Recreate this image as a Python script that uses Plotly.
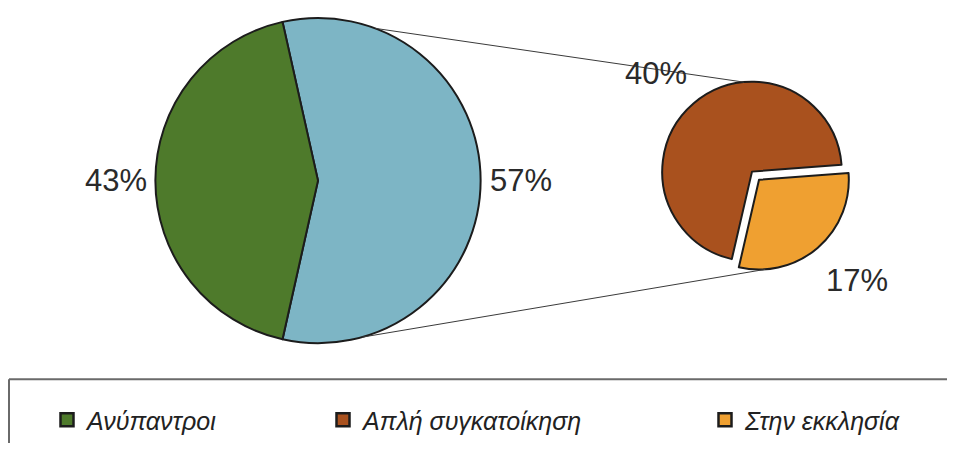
import math
import plotly.graph_objects as go

# ── data ────────────────────────────────────
main_labels = ["Συμβιώνουν", "Ανύπαντροι"]
main_values = [57, 43]
sub_labels = ["Απλή συγκατοίκηση", "Στην εκκλησία"]
sub_values = [40, 17]
legend_labels = ["Ανύπαντροι", "Απλή συγκατοίκηση", "Στην εκκλησία"]

# ── style / geometry ────────────────────────
# the page body has an 8px margin on every side, so the figure is made that
# much smaller (no scrollbars) and reference pixel positions are shifted by it
OFF = 8
W, H = 955 - 2 * OFF, 451 - 2 * OFF
GREEN, BLUE, BROWN, ORANGE = "#4e7a2b", "#7db5c5", "#a9511e", "#efa031"
EDGE = "#1c1c1c"
FONT = "Liberation Sans, Arial, sans-serif"

MAIN_C, MAIN_R, MAIN_ROT = (318, 181), 163, -12.6
SUB_C, SUB_R, SUB_ROT, SUB_PULL = (752, 172), 90, 193, 0.12


def px(x, y):
    return (x - OFF) / W, 1 - (y - OFF) / H


def domain(c, half):
    x0, y1 = px(c[0] - half, c[1] - half)
    x1, y0 = px(c[0] + half, c[1] + half)
    return dict(x=[x0, x1], y=[y0, y1])


def on_circle(c, r, ang):
    a = math.radians(ang)
    return c[0] + r * math.sin(a), c[1] - r * math.cos(a)


def mid_angles(values, rot):
    tot = sum(values)
    out, start = [], rot
    for v in values:
        span = 360 * v / tot
        out.append(start + span / 2)
        start += span
    return out


fig = go.Figure()

fig.add_trace(go.Pie(
    labels=main_labels, values=main_values, sort=False, direction="clockwise",
    rotation=MAIN_ROT, textinfo="none", hoverinfo="label+value",
    marker=dict(colors=[BLUE, GREEN], line=dict(color=EDGE, width=2)),
    domain=domain(MAIN_C, MAIN_R), showlegend=False,
))

fig.add_trace(go.Pie(
    labels=sub_labels, values=sub_values, sort=False, direction="clockwise",
    rotation=SUB_ROT, pull=[0, SUB_PULL], textinfo="none", hoverinfo="label+value",
    marker=dict(colors=[BROWN, ORANGE], line=dict(color=EDGE, width=2)),
    domain=domain(SUB_C, SUB_R * (1 + SUB_PULL)), showlegend=False,
))

# percentage labels (distance from centre and small angle nudge per label)
ann_font = dict(family=FONT, size=31, color="#2a2a2a")
labels_pos = [(MAIN_C, main_values, mid_angles(main_values, MAIN_ROT), [203, 202], [0, 0]),
              (SUB_C, sub_values, mid_angles(sub_values, SUB_ROT), [137, 151], [-3.7, -3.2])]
for c, vals, angs, dists, nudges in labels_pos:
    for val, ang, dist, nd in zip(vals, angs, dists, nudges):
        ax, ay = px(*on_circle(c, dist, ang + nd))
        fig.add_annotation(x=ax, y=ay, xref="paper", yref="paper", xanchor="center",
                           yanchor="middle", text=f"{val}%", showarrow=False, font=ann_font)

# connector lines main pie -> secondary pie
sub_off = on_circle((0, 0), SUB_R * SUB_PULL, mid_angles(sub_values, SUB_ROT)[1])
top_a = on_circle(MAIN_C, MAIN_R, 20.6)
top_b = on_circle(SUB_C, SUB_R, -5)
bot_a = on_circle(MAIN_C, MAIN_R, 164.3)
bot_b = on_circle((SUB_C[0] + sub_off[0], SUB_C[1] + sub_off[1]), SUB_R, 176)
for a, b in [(top_a, top_b), (bot_a, bot_b)]:
    (x0, y0), (x1, y1) = px(*a), px(*b)
    fig.add_shape(type="line", xref="paper", yref="paper", x0=x0, y0=y0, x1=x1, y1=y1,
                  line=dict(color="#3a3a3a", width=1))

# legend frame: only top and left edges show, the rest runs off the picture
fx0, fy0 = px(9, 380)
fx1, fy1 = px(980, 480)
for x0, y0, x1, y1 in [(fx0, fy0, fx1, fy0), (fx0, fy0, fx0, fy1)]:
    fig.add_shape(type="line", xref="paper", yref="paper", x0=x0, y0=y0, x1=x1, y1=y1,
                  line=dict(color="#6a6a6a", width=2))

# legend entries, one legend each so they sit where the original has them
leg_colors = [GREEN, BROWN, ORANGE]
leg_marker_x = [71, 347, 729]
for i, (lab, col, mx) in enumerate(zip(legend_labels, leg_colors, leg_marker_x)):
    name = "legend" if i == 0 else f"legend{i + 1}"
    fig.add_trace(go.Scatter(
        x=[None], y=[None], mode="markers", name=lab, legend=name,
        marker=dict(symbol="square", size=13, color=col, line=dict(color=EDGE, width=2.5)),
    ))
    lx, ly = px(mx - 24, 421)
    fig.update_layout({name: dict(
        x=lx, y=ly, xanchor="left", yanchor="middle", orientation="h",
        bgcolor="rgba(0,0,0,0)", borderwidth=0,
        font=dict(family=FONT, size=25, color="#222222", style="italic"),
    )})

fig.update_layout(
    width=W, height=H, margin=dict(l=0, r=0, t=0, b=0),
    paper_bgcolor="white", plot_bgcolor="white",
    xaxis=dict(visible=False), yaxis=dict(visible=False),
    font=dict(family=FONT),
)

fig.write_html("out.html")
